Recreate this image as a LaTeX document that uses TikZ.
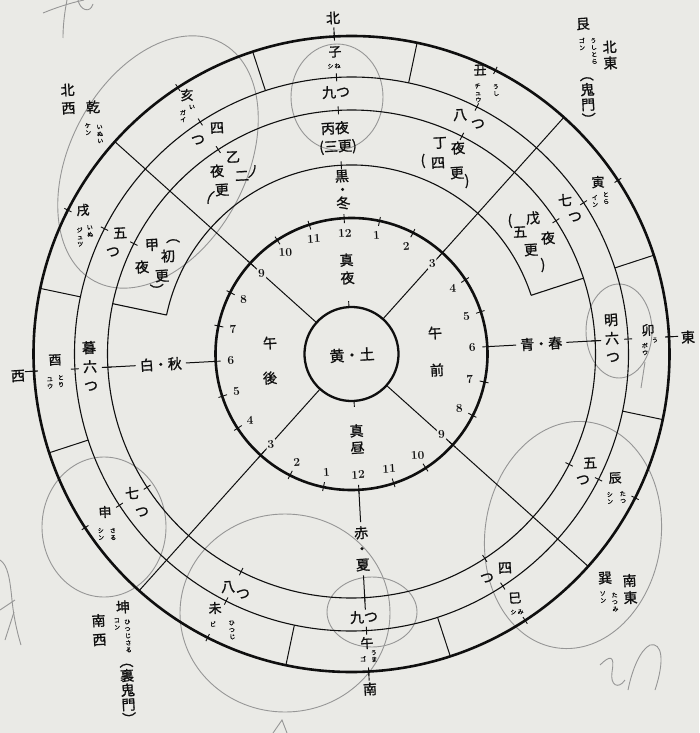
\documentclass[tikz,border=0pt]{standalone}
\usepackage{fontspec}
\newfontfamily\jp{Noto Sans CJK JP}[FakeBold=1.2]
\definecolor{paper}{RGB}{234,234,230}
\definecolor{ink}{RGB}{15,15,15}
\definecolor{pencil}{RGB}{150,150,150}
\tikzset{
  thickc/.style={line width=2.6pt, draw=ink},
  thinc/.style={line width=1.1pt, draw=ink},
  rad/.style={line width=1.0pt, draw=ink},
  tk/.style={line width=0.9pt, draw=ink},
  lab/.style={inner sep=0pt, text=ink, rotate=3.1, font=\jp\fontsize{14}{14}\selectfont},
  brl/.style={lab, font=\jp\fontsize{13}{13}\selectfont},
  vlab/.style={lab, align=center, font=\jp\fontsize{14}{17}\selectfont},
  fur/.style={inner sep=0pt, text=ink, rotate=3.1, align=center, font=\jp\fontsize{6}{7}\selectfont},
  num/.style={inner sep=1pt, fill=paper, text=ink, rotate=3.1, font=\bfseries\fontsize{12}{12}\selectfont},
  axl/.style={lab, inner sep=4pt},
  pen/.style={draw=pencil, line width=0.9pt},
}
\begin{document}
\begin{tikzpicture}[x=1pt,y=-1pt]
\fill[paper] (0,0) rectangle (699,733);
\useasboundingbox (0,0) rectangle (699,733);

% pencil annotations
\draw[pen] (337,97) ellipse[x radius=46, y radius=53];
\draw[pen, rotate around={62:(158,162)}] (158,162) ellipse[x radius=135, y radius=88];
\draw[pen] (619,331) ellipse[x radius=33, y radius=47];
\draw[pen] (645,362) -- (641,388);
\draw[pen, rotate around={-8:(573,535)}] (573,535) ellipse[x radius=88, y radius=114];
\draw[pen] (104,527) ellipse[x radius=62, y radius=70];
\draw[pen] (285,613) ellipse[x radius=105, y radius=99];
\draw[pen] (372,612) ellipse[x radius=45, y radius=35];
\draw[pen] (43,13) .. controls (55,8) and (70,3) .. (84,0);
\draw[pen] (67,0) .. controls (64,15) and (63,28) .. (63,38);
\draw[pen] (78,0) .. controls (80,10) and (90,14) .. (93,4);
\draw[pen] (0,560) .. controls (8,565) and (10,580) .. (12,600) .. controls (14,620) and (18,635) .. (21,645);
\draw[pen] (0,610) -- (15,600);
\draw[pen] (5,640) -- (14,612);
\draw[pen] (273,733) -- (282,720) -- (287,733);
\draw[pen] (600,665) .. controls (610,655) and (615,655) .. (612,672) .. controls (610,685) and (618,690) .. (625,680);
\draw[pen] (628,690) .. controls (632,670) and (640,650) .. (650,645) .. controls (662,642) and (665,660) .. (655,690);

% geometry
\begin{scope}[shift={(351.5,354)}, y=1pt, rotate=3.1]
  \draw[thickc] (0,0) circle[radius=318];
  \draw[thinc] (0,0) circle[radius=277];
  \draw[thinc] (0,0) circle[radius=244];
  \draw[thinc] (15:189) arc[start angle=15, end angle=165, radius=189];
  \draw[thinc] (15:189) -- (15:244);
  \draw[thinc] (165:189) -- (165:244);
  \draw[thickc] (0,0) circle[radius=136];
  \draw[thickc, line width=2.3pt] (0,0) circle[radius=47];
  \foreach \a in {15,-15,75,105,165,195,255,285} \draw[rad] (\a:277) -- (\a:318);
  \foreach \a in {45,135,225,315} \draw[rad] (\a:47) -- (\a:318);
  \foreach \k in {0,...,11}{
    \pgfmathsetmacro\a{90-30*\k}
    \draw[tk] (\a:273) -- (\a:281);
    \draw[tk] (\a:240) -- (\a:248);
    \draw[tk] (\a:314) -- (\a:322);
  }
  \foreach \a in {0,90,180,270} \draw[tk] (\a:314) -- (\a:327);
  \draw[tk] (90:185) -- (90:193);
  \foreach \h in {0,...,23} \draw[tk] ({90-15*\h}:131) -- ({90-15*\h}:140);
  \draw[tk] (90:47) -- (90:53);
  \draw[tk] (270:47) -- (270:53);
  \foreach \h in {1,...,11}{
    \node[num] (hr\h) at ({90-15*\h}:121) {\h};
    \node[num] (hl\h) at ({-90-15*\h}:121) {\h};
  }
  \node[num] (h12t) at (90:121) {12};
  \node[num] (h12b) at (270:121) {12};
  \coordinate (wIn) at (180:136); \coordinate (wOut) at (180:250);
  \coordinate (eIn) at (0:136);   \coordinate (eOut) at (0:250);
  \coordinate (sIn) at (270:136); \coordinate (sOut) at (270:256);
  \node[axl] (baiqiu) at (180:191) {白・秋};
  \node[axl] (qingchun) at (0:190) {青・春};
  \node[vlab, inner sep=4pt, font=\jp\fontsize{14}{16}\selectfont] (chixia) at (270:195) {赤\\・\\夏};
  \node[vlab, font=\jp\fontsize{14}{13.5}\selectfont] (heidong) at (90:164.5) {黒\\・\\冬};
\end{scope}
\draw[rad] (wOut) -- (baiqiu.west);
\draw[rad] (baiqiu.east) -- (wIn);
\draw[rad] (eIn) -- (qingchun.west);
\draw[rad] (qingchun.east) -- (eOut);
\draw[rad] (sIn) -- (chixia.north);
\draw[rad] (chixia.south) -- (sOut);

% directions
\node[lab] (N) at (333,18) {北};
\node[lab] (E) at (688,337) {東};
\node[lab] (S) at (370,689) {南};
\node[lab] (W) at (18,376) {西};
\node[vlab, font=\jp\fontsize{14}{18}\selectfont] (NW) at (68,99) {北\\西};
\node[vlab, font=\jp\fontsize{14}{16}\selectfont] (NE) at (610,55) {北\\東};
\node[vlab, font=\jp\fontsize{14}{17}\selectfont] (SE) at (630,589) {南\\東};
\node[vlab, font=\jp\fontsize{14}{19}\selectfont] (SW) at (99,630) {南\\西};

% trigram corners
\node[lab] (qian) at (93,107) {乾};
\node[fur] (qianf1) at (88,129) {ケ\\ン};
\node[fur] (qianf2) at (100,134) {い\\ぬ\\い};
\node[lab] (gen) at (583,24) {艮};
\node[fur] (genf1) at (582,44) {ゴ\\ン};
\node[fur] (genf2) at (594,51) {う\\し\\と\\ら};
\node[vlab, font=\jp\fontsize{14}{15}\selectfont] (kimon) at (588,101) {︵\\鬼\\門\\︶};
\node[lab] (xun) at (605,578) {巽};
\node[fur] (xunf1) at (603,597) {ソ\\ン};
\node[fur] (xunf2) at (615,602) {た\\つ\\み};
\node[lab] (kun) at (123,607) {坤};
\node[fur] (kunf1) at (117,624) {コ\\ン};
\node[fur] (kunf2) at (128,636) {ひ\\つ\\じ\\さ\\る};
\node[vlab, font=\jp\fontsize{14}{14.5}\selectfont] (urakimon) at (128,694) {︵\\裏\\鬼\\門\\︶};

% twelve branches
\node[brl] (zi) at (335,52) {子};
\node[fur] (zif) at (334,66) {シ\,ね};
\node[brl] (chou) at (480,70) {丑};
\node[fur] (chouf1) at (478,93) {チ\\ュ\\ウ};
\node[fur] (chouf2) at (496,90) {う\\し};
\node[brl] (yin) at (598,182) {寅};
\node[fur] (yinf1) at (595,201) {イ\\ン};
\node[fur] (yinf2) at (606,198) {と\\ら};
\node[brl] (mao) at (648,330) {卯};
\node[fur] (maof1) at (645,349) {ボ\\ウ};
\node[fur] (maof2) at (655,340) {う};
\node[brl] (chen) at (615,478) {辰};
\node[fur] (chenf1) at (610,498) {シ\\ン};
\node[fur] (chenf2) at (623,497) {た\\つ};
\node[brl] (si) at (515,598) {巳};
\node[fur] (sif) at (517,612) {シ\,み};
\node[brl] (wu) at (367,643) {午};
\node[fur] (wuf1) at (363,659) {ゴ};
\node[fur] (wuf2) at (374,656) {う\\ま};
\node[brl] (wei) at (215,608) {未};
\node[fur] (weif1) at (213,624) {ビ};
\node[fur] (weif2) at (232,630) {ひ\\つ\\じ};
\node[brl] (shen) at (105,512) {申};
\node[fur] (shenf1) at (101,534) {シ\\ン};
\node[fur] (shenf2) at (113,534) {さ\\る};
\node[brl] (you) at (55,360) {酉};
\node[fur] (youf1) at (50,383) {ユ\\ウ};
\node[fur] (youf2) at (61,381) {と\\り};
\node[brl] (xu) at (83,210) {戌};
\node[fur] (xuf1) at (80,237) {ジ\\ュ\\ツ};
\node[fur] (xuf2) at (90,231) {い\\ぬ};
\node[brl] (hai) at (187,95) {亥};
\node[fur] (haif1) at (183,116) {ガ\\イ};
\node[fur] (haif2) at (192,107) {い};

% ring of hours (tsu)
\node[lab] (b0) at (336,92) {九つ};
\node[lab] (b1a) at (460,115) {八}; \node[lab] (b1b) at (478,124) {つ};
\node[lab] (b2a) at (565,200) {七}; \node[lab] (b2b) at (575,217) {つ};
\node[vlab, font=\jp\fontsize{14}{18.5}\selectfont] (b3) at (612,338) {明\\六\\つ};
\node[lab] (b4a) at (590,463) {五}; \node[lab] (b4b) at (583,480) {つ};
\node[lab] (b5a) at (505,568) {四}; \node[lab] (b5b) at (487,578) {つ};
\node[lab] (b6) at (364,617) {九つ};
\node[lab] (b7a) at (228,587) {八}; \node[lab] (b7b) at (243,594) {つ};
\node[lab] (b8a) at (132,493) {七}; \node[lab] (b8b) at (142,512) {つ};
\node[vlab, font=\jp\fontsize{14}{19}\selectfont] (b9) at (90,366) {暮\\六\\つ};
\node[lab] (b10a) at (120,233) {五}; \node[lab] (b10b) at (113,252) {つ};
\node[lab] (b11a) at (217,128) {四}; \node[lab] (b11b) at (198,140) {つ};

% five night watches
\node[lab] (c1a) at (152,245) {甲}; \node[lab] (c1b) at (142,267) {夜};
\node[lab] (c1o) at (173,241) {︵}; \node[lab] (c1c) at (168,256) {初};
\node[lab] (c1d) at (162,276) {更}; \node[lab] (c1e) at (157,290) {︶};
\node[lab] (c2a) at (233,157) {乙}; \node[lab] (c2b) at (217,171) {夜};
\node[lab] (c2c) at (242,176) {二}; \node[lab] (c2d) at (222,190) {更};
\node[lab, rotate=-30] (c2o) at (253,172) {)}; \node[lab, rotate=-30] (c2e) at (210,197) {(};
\node[lab] (c3a) at (335,128) {丙夜};
\node[lab] (c3b) at (338,147) {(三更)};
\node[lab] (c4a) at (440,143) {丁}; \node[lab] (c4b) at (458,148) {夜};
\node[lab] (c4o) at (423,161) {(}; \node[lab] (c4c) at (438,163) {四};
\node[lab] (c4d) at (457,173) {更}; \node[lab] (c4e) at (467,181) {)};
\node[lab] (c5a) at (533,218) {戊}; \node[lab] (c5b) at (548,238) {夜};
\node[lab] (c5o) at (510,221) {(}; \node[lab] (c5c) at (520,232) {五};
\node[lab] (c5d) at (531,250) {更}; \node[lab] (c5e) at (543,265) {)};

% clock interior
\node[vlab, font=\jp\fontsize{14}{18}\selectfont] (zhenye) at (347,269) {真\\夜};
\node[vlab, font=\jp\fontsize{14}{17}\selectfont] (zhenzhou) at (357,439) {真\\昼};
\node[lab] (wq1) at (435,333) {午}; \node[lab] (wq2) at (437,370) {前};
\node[lab] (wh1) at (270,343) {午}; \node[lab] (wh2) at (270,378) {後};
\node[lab, font=\jp\fontsize{15}{15}\selectfont] (centre) at (352,355) {黄・土};
\end{tikzpicture}
\end{document}
